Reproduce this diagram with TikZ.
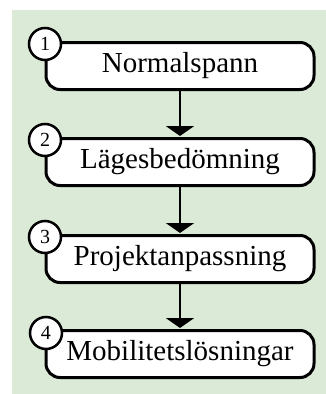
\documentclass[tikz,border=0pt]{standalone}
\usepackage{fontspec}
\setmainfont{Liberation Serif}
\usetikzlibrary{arrows.meta}
\definecolor{bggreen}{RGB}{218,234,214}
\begin{document}
\begin{tikzpicture}[x=1pt,y=-1pt,
  stepbox/.style={draw=black, line width=3pt, fill=white, rounded corners=14pt,
    minimum width=268pt, minimum height=47pt, inner sep=0pt,
    font=\fontsize{29}{30}\selectfont},
  numcircle/.style={circle, draw=black, line width=2.5pt, fill=white,
    minimum size=32pt, inner sep=0pt, font=\fontsize{20}{21}\selectfont},
  flow/.style={line width=2.5pt, -{Triangle[width=28pt,length=10pt]}, shorten >=1pt}]
\useasboundingbox (0,0) rectangle (326,394);
\fill[bggreen] (12,10) rectangle (326,394);
\node[stepbox] (b1) at (180,66) {Normalspann};
\node[stepbox] (b2) at (180,162) {Lägesbedömning};
\node[stepbox] (b3) at (180,259) {Projektanpassning};
\node[stepbox] (b4) at (180,354) {Mobilitetslösningar};
\draw[flow] (b1.south) -- (b2.north);
\draw[flow] (b2.south) -- (b3.north);
\draw[flow] (b3.south) -- (b4.north);
\node[numcircle] (c1) at (45,44) {1};
\node[numcircle] (c2) at (45,140) {2};
\node[numcircle] (c3) at (45,237) {3};
\node[numcircle] (c4) at (46,333) {4};
\end{tikzpicture}
\end{document}
